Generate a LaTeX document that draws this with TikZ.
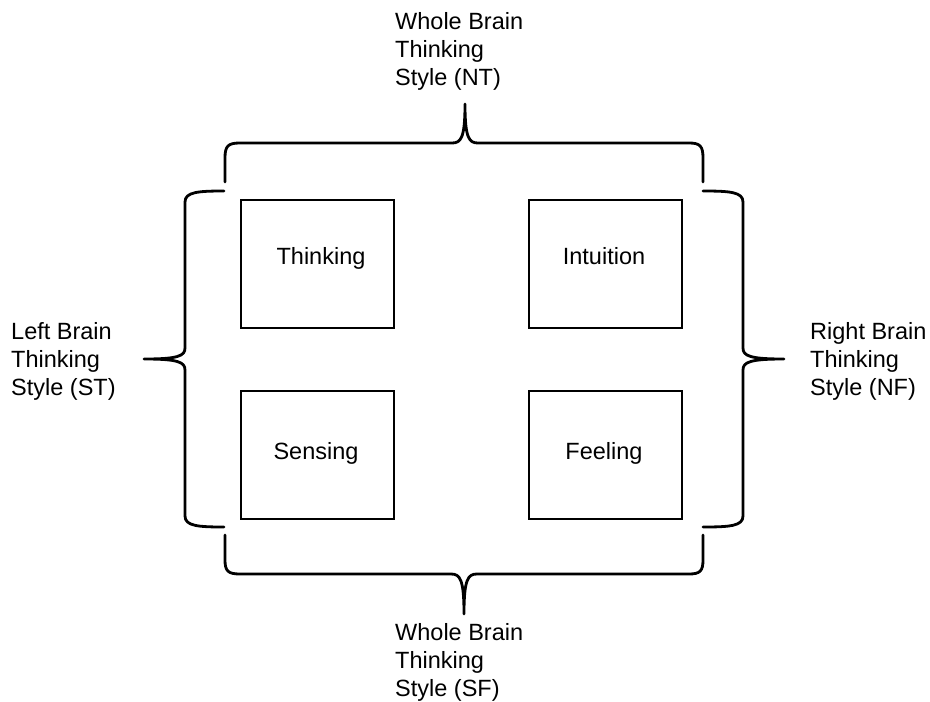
\documentclass[tikz,border=0pt]{standalone}
\usepackage{fontspec}
\setmainfont{Liberation Sans}
\begin{document}
\begin{tikzpicture}[x=1pt,y=-1pt,
  box/.style={draw,line width=2pt,minimum width=153pt,minimum height=128pt,inner sep=0pt,anchor=north west},
  boxtext/.style={font=\fontsize{23.5}{28}\selectfont,anchor=base,inner sep=0pt},
  label/.style={font=\fontsize{23.5}{28}\selectfont,align=left,anchor=north west,inner sep=0pt},
  brace/.style={draw,line width=2.8pt,line cap=round,line join=round}]
\useasboundingbox (0,0) rectangle (930,702);
% boxes
\node[box] (thinking) at (240,199) {};
\node[box] (intuition) at (528,199) {};
\node[box] (sensing) at (240,390) {};
\node[box] (feeling) at (528,390) {};
\node[boxtext] (tthinking) at (321,264) {Thinking};
\node[boxtext] (tintuition) at (604,264) {Intuition};
\node[boxtext] (tsensing) at (316,459) {Sensing};
\node[boxtext] (tfeeling) at (604,459) {Feeling};
% labels
\node[label] (ltop) at (395,12) {Whole Brain\\Thinking\\Style (NT)};
\node[label] (lbot) at (395,623) {Whole Brain\\Thinking\\Style (SF)};
\node[label] (lleft) at (11,322) {Left Brain\\Thinking\\Style (ST)};
\node[label] (lright) at (810,322) {Right Brain\\Thinking\\Style (NF)};
% brace tips
\coordinate (ttip) at (465,104);
\coordinate (btip) at (464,614);
\coordinate (ltip) at (144,359);
\coordinate (rtip) at (784,359);
% top brace
\draw[brace] (225,182) -- (225,158) .. controls (225,146) and (228,143) .. (240,143) -- (452,143)
  .. controls (461,143) and (465,138) .. (ttip)
  .. controls (465,138) and (469,143) .. (478,143) -- (689,143)
  .. controls (700,143) and (703,146) .. (703,158) -- (703,182);
% bottom brace
\draw[brace] (225,535) -- (225,560) .. controls (225,571) and (228,574) .. (240,574) -- (451,574)
  .. controls (460,574) and (464,579) .. (btip)
  .. controls (464,579) and (468,574) .. (477,574) -- (689,574)
  .. controls (700,574) and (703,571) .. (703,560) -- (703,535);
% left brace
\draw[brace] (224,191) .. controls (198,191) and (185,192) .. (185,202) -- (185,348)
  .. controls (185,356) and (178,359) .. (ltip)
  .. controls (178,359) and (185,362) .. (185,370) -- (185,516)
  .. controls (185,526) and (198,527) .. (224,527);
% right brace
\draw[brace] (703,191) .. controls (730,191) and (743,192) .. (743,202) -- (743,348)
  .. controls (743,356) and (750,359) .. (rtip)
  .. controls (750,359) and (743,362) .. (743,370) -- (743,516)
  .. controls (743,526) and (730,527) .. (703,527);
\end{tikzpicture}
\end{document}
